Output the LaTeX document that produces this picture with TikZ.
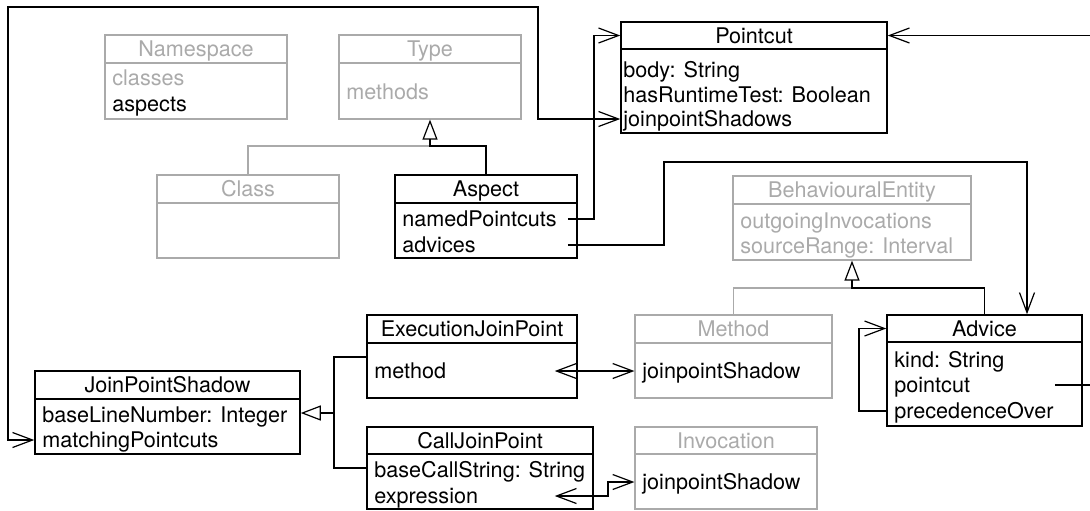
\documentclass[tikz,border=0pt]{standalone}
\usepackage{fontspec}
\setmainfont{TeX Gyre Heros}
\usetikzlibrary{%
  arrows.meta,
  fit
}
\definecolor{umlgray}{RGB}{170,170,170}

\begin{document}
\begin{tikzpicture}[x=0.5pt, y=-0.5pt,
    cls/.style={draw, line width=0.75pt, inner sep=0pt},
    ghost/.style={draw=umlgray, line width=0.6pt, inner sep=0pt},
    title/.style={font=\fontsize{10.8}{13}\selectfont, inner sep=0pt, text height=7.75pt, text depth=0pt},
    gtitle/.style={title, text=umlgray},
    attr/.style={title, anchor=west},
    gattr/.style={attr, text=umlgray},
    assoc/.style={line width=0.6pt, -{Straight Barb[length=10pt,width=7.5pt]}},
    biassoc/.style={line width=0.6pt, {Straight Barb[length=10pt,width=7.5pt]}-{Straight Barb[length=10pt,width=7.5pt]}},
    gen/.style={line width=0.6pt, -{Triangle[open,length=10pt,width=7.5pt]}},
    gline/.style={draw=umlgray, line width=0.6pt}]
    \clip (0,0) rectangle (1090,510);

    % grey context classes
    \node[ghost, fit={(105,35) (287,119)}] (namespace) {};
    \draw[gline] (105,63) -- (287,63);
    \node[gtitle] (namespace-t) at (196,49) {Namespace};
    \node[gattr] (ns-classes) at (112,78) {classes};
    \node[attr] (ns-aspects) at (112,104) {aspects};

    \node[ghost, fit={(339,35) (521,119)}] (type) {};
    \draw[gline] (339,63) -- (521,63);
    \node[gtitle] (type-t) at (430,49) {Type};
    \node[gattr] (type-methods) at (346,92) {methods};

    \node[ghost, fit={(157,175) (339,258)}] (class) {};
    \draw[gline] (157,203) -- (339,203);
    \node[gtitle] (class-t) at (248,189) {Class};

    \node[ghost, fit={(733,176) (971,260)}] (behav) {};
    \draw[gline] (733,204) -- (971,204);
    \node[gtitle] (behav-t) at (852,190) {BehaviouralEntity};
    \node[gattr] (be-outgoing) at (740,220.5) {outgoingInvocations};
    \node[gattr] (be-range) at (740,245.5) {sourceRange: Interval};

    \node[ghost, fit={(635,315) (832,398)}] (method) {};
    \draw[gline] (635,343) -- (832,343);
    \node[gtitle] (method-t) at (733.5,329) {Method};
    \node[attr] (me-shadow) at (642,371) {joinpointShadow};

    \node[ghost, fit={(635,427) (817,509)}] (invoc) {};
    \draw[gline] (635,454) -- (817,454);
    \node[gtitle] (invoc-t) at (726,440.5) {Invocation};
    \node[attr] (inv-shadow) at (642,482) {joinpointShadow};

    % classes of the model
    \node[cls, fit={(395,175) (577,258)}] (aspect) {};
    \draw[line width=0.75pt] (395,203) -- (577,203);
    \node[title] (aspect-t) at (486,189) {Aspect};
    \node[attr] (asp-named) at (402,219) {namedPointcuts};
    \node[attr] (asp-adv) at (402,245) {advices};

    \node[cls, fit={(621,22) (887,133)}] (pointcut) {};
    \draw[line width=0.75pt] (621,49) -- (887,49);
    \node[title] (pointcut-t) at (754,35.5) {Pointcut};
    \node[attr] (pc-body) at (623,70) {body: String};
    \node[attr] (pc-test) at (623,94.5) {hasRuntimeTest: Boolean};
    \node[attr] (pc-shadows) at (623,119) {joinpointShadows};

    \node[cls, fit={(367,315) (577,398)}] (exec) {};
    \draw[line width=0.75pt] (367,343) -- (577,343);
    \node[title] (exec-t) at (472,329) {ExecutionJoinPoint};
    \node[attr] (ej-method) at (374,371) {method};

    \node[cls, fit={(367,427) (593,509)}] (call) {};
    \draw[line width=0.75pt] (367,454) -- (593,454);
    \node[title] (call-t) at (480,440.5) {CallJoinPoint};
    \node[attr] (cj-base) at (374,470) {baseCallString: String};
    \node[attr] (cj-expr) at (374,496) {expression};

    \node[cls, fit={(35,371) (300,454)}] (jps) {};
    \draw[line width=0.75pt] (35,399) -- (300,399);
    \node[title] (jps-t) at (167.5,385) {JoinPointShadow};
    \node[attr] (jps-base) at (42,414.5) {baseLineNumber: Integer};
    \node[attr] (jps-match) at (42,440) {matchingPointcuts};

    \node[cls, fit={(887,315) (1082,426)}] (advice) {};
    \draw[line width=0.75pt] (887,342) -- (1082,342);
    \node[title] (advice-t) at (984.5,328.5) {Advice};
    \node[attr] (adv-kind) at (894,359.5) {kind: String};
    \node[attr] (adv-pc) at (894,385) {pointcut};
    \node[attr] (adv-prec) at (894,411) {precedenceOver};

    % generalisations
    \draw[gline] (class.north) |- (430,146);
    \draw[gen] (aspect.north) |- (430,146) -- (type.south);
    \draw[gline] (method.north) |- (852,288);
    \draw[gen] (advice.north) |- (852,288) -- (behav.south);
    \draw[line width=0.6pt] (call.west |- 0,468) -| (334,413);
    \draw[gen] (exec.west |- 0,357) -| (334,413) -- (jps.east |- 0,413);

    % associations
    \draw[biassoc] (pointcut.west |- pc-shadows) -| (538,7) -| (8,440) -- (jps.west |- jps-match);
    \draw[assoc] ([xshift=-5pt]aspect.east |- asp-named) -| (594,35.5) -- (pointcut.west |- pointcut-t);
    \draw[assoc] ([xshift=-5pt]aspect.east |- asp-adv) -| (664,162) -| ([xshift=21.25pt]advice.north);
    \draw[assoc] ([xshift=-14pt]advice.east |- adv-pc) -| (1100,35.5) -- (pointcut.east |- pointcut-t);
    \draw[assoc] (advice.west |- adv-prec) -| (859,328.5) -- (advice.west |- advice-t);
    \draw[biassoc] ([xshift=-11.5pt]exec.east |- ej-method) -- (method.west |- me-shadow);
    \draw[biassoc] ([xshift=-19.5pt]call.east |- cj-expr) -| (608,482) -- (invoc.west |- inv-shadow);

\end{tikzpicture}
\end{document}
